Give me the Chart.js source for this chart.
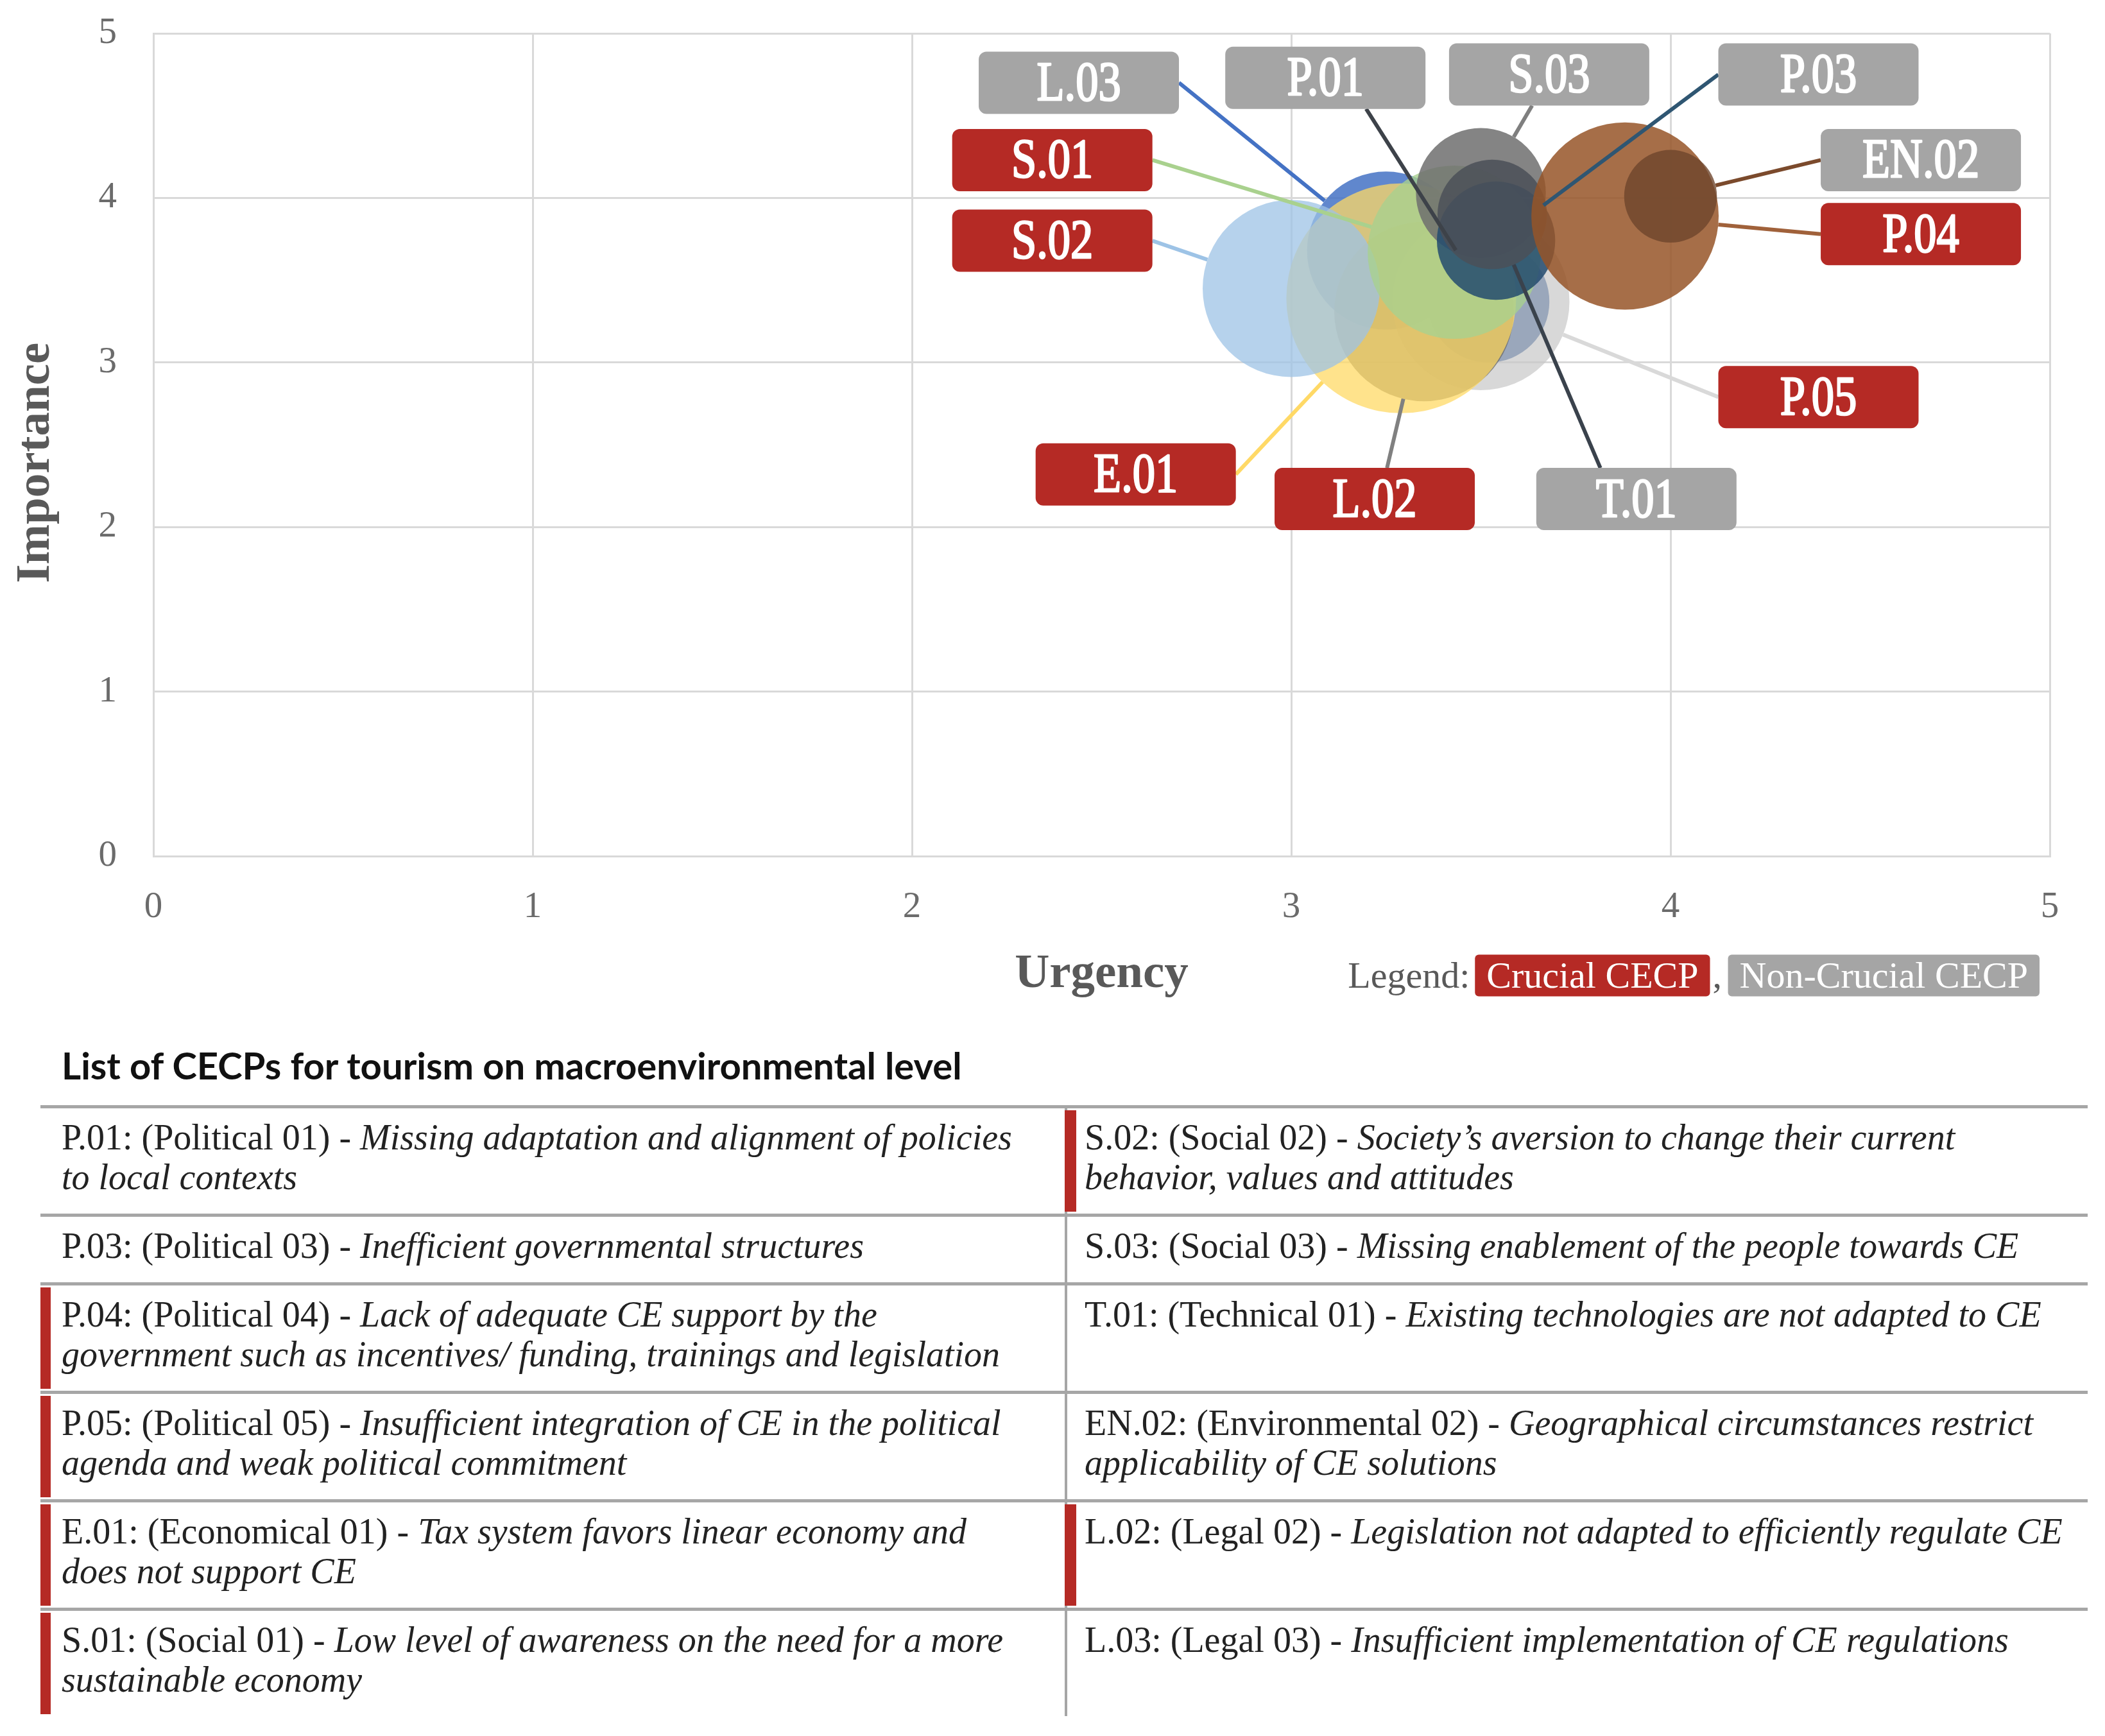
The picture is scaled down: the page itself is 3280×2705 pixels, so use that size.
<!DOCTYPE html>
<html>
<head>
<meta charset="utf-8">
<title>CECPs - Urgency vs Importance</title>
<script src="https://cdn.jsdelivr.net/npm/chart.js@4.4.1/dist/chart.umd.min.js"></script>
<style>
  html, body { margin: 0; padding: 0; background: #fff; }
  #page { position: relative; width: 3280px; height: 2705px; overflow: hidden; }
  #chartBox { position: absolute; left: 0; top: 0; width: 3280px; height: 1600px; }
  #listTitle {
    position: absolute; left: 96px; top: 1625px; line-height: 66px;
    font: bold 58px Lato, "Open Sans", sans-serif; color: #111;
  }
  #list {
    position: absolute; left: 63px; top: 1722px; width: 3190px;
    border-collapse: separate; border-spacing: 0; table-layout: fixed;
    font-family: "Liberation Serif", "Times New Roman", serif;
    font-size: 56px; line-height: 62px; color: #222;
  }
  #list td {
    border-top: 5px solid #a6a6a6; padding: 14px 0 26px 33px;
    vertical-align: top; white-space: pre; position: relative;
  }
  #list td.right { border-left: 4px solid #a6a6a6; padding-left: 27px; }
  #list td.crucial::before {
    content: ""; position: absolute; left: 0; top: 3px; bottom: 3px;
    width: 16px; background: #b52a25;
  }
  #list td.right.crucial::before { left: -4px; width: 18px; }
  #list .desc { font-style: italic; }
</style>
</head>
<body>
<div id="page">
  <div id="chartBox"><canvas id="chartCECP" width="3280" height="1600"></canvas></div>
  <div id="listTitle">List of CECPs for tourism on macroenvironmental level</div>
  <table id="list">
    <colgroup><col style="width:1596px"><col style="width:1594px"></colgroup>
    <tbody></tbody>
  </table>
</div>
<script>
// === data (table order: first six = left column, last six = right column) ===
const codes = ["P.01", "P.03", "P.04", "P.05", "E.01", "S.01",
               "S.02", "S.03", "T.01", "EN.02", "L.02", "L.03"];
const categories = ["Political 01", "Political 03", "Political 04", "Political 05", "Economical 01", "Social 01",
                    "Social 02", "Social 03", "Technical 01", "Environmental 02", "Legal 02", "Legal 03"];
const descriptions = [
  "Missing adaptation and alignment of policies\nto local contexts",
  "Inefficient governmental structures",
  "Lack of adequate CE support by the\ngovernment such as incentives/ funding, trainings and legislation",
  "Insufficient integration of CE in the political\nagenda and weak political commitment",
  "Tax system favors linear economy and\ndoes not support CE",
  "Low level of awareness on the need for a more\nsustainable economy",
  "Society\u2019s aversion to change their current\nbehavior, values and attitudes",
  "Missing enablement of the people towards CE",
  "Existing technologies are not adapted to CE",
  "Geographical circumstances restrict\napplicability of CE solutions",
  "Legislation not adapted to efficiently regulate CE",
  "Insufficient implementation of CE regulations"
];
const crucial = [false, false, true, true, true, true,
                 true, false, false, false, true, false];

// urgency (x), importance (y), bubble size
const urgency    = [3.52, 3.54, 3.88, 3.50, 3.29, 3.43, 3.00, 3.50, 3.53, 4.00, 3.35, 3.25];
const importance = [3.37, 3.74, 3.89, 3.37, 3.39, 3.67, 3.45, 4.03, 3.90, 4.01, 3.31, 3.68];
const bubbleSize = [8.8, 8.3, 20.8, 18.6, 31.3, 17.8, 18.6, 10.0, 7.1, 5.1, 19.1, 14.8];

const xTicks = [0, 1, 2, 3, 4, 5];
const yTicks = [0, 1, 2, 3, 4, 5];

// === callout placement (in axis units) and styling ===
const labelUrgency    = [3.09, 4.39, 4.66, 4.39, 2.59, 2.37, 2.37, 3.68, 3.91, 4.66, 3.22, 2.44];
const labelImportance = [4.73, 4.75, 3.78, 2.79, 2.32, 4.23, 3.74, 4.75, 2.17, 4.23, 2.17, 4.70];
const labelSide = ["b", "l", "l", "l", "r", "r", "r", "b", "t", "l", "t", "r"];

const bubbleFill = {
  "L.03": "rgba(68,114,196,0.85)",  "P.05": "rgba(200,200,200,0.7)",
  "P.01": "rgba(120,140,170,0.65)", "L.02": "rgba(110,110,110,0.8)",
  "E.01": "rgba(255,217,102,0.75)", "S.02": "rgba(157,195,230,0.75)",
  "S.01": "rgba(169,209,142,0.8)",  "S.03": "rgba(110,110,110,0.85)",
  "P.03": "rgba(35,75,110,0.85)",   "T.01": "rgba(75,80,88,0.85)",
  "P.04": "rgba(150,85,40,0.85)",   "EN.02": "rgba(110,70,45,0.8)"
};
const leaderColor = {
  "L.03": "#4472c4", "P.05": "#d9d9d9", "P.01": "#3d4249", "L.02": "#808080",
  "E.01": "#ffd966", "S.02": "#9dc3e6", "S.01": "#a9d18e", "S.03": "#7f7f7f",
  "P.03": "#2f5672", "T.01": "#3a424c", "P.04": "#a0613a", "EN.02": "#7b4a2c"
};
// bottom -> top
const drawOrder = ["L.03", "P.05", "P.01", "L.02", "E.01", "S.02", "S.01", "S.03", "P.03", "T.01", "P.04", "EN.02"];

const SERIF = "'Liberation Serif', 'Times New Roman', serif";
const RED = "#b52a25", GREY = "#a5a5a5";
const BUBBLE_K = 32;          // px per sqrt(size)
const TAG_W = 312, TAG_H = 97, TAG_FONT = 82;

const radiusOf = i => Math.sqrt(bubbleSize[i]) * BUBBLE_K;

// datasets: Chart.js paints dataset 0 last, so reverse the order
const datasets = drawOrder.slice().reverse().map(code => {
  const i = codes.indexOf(code);
  return {
    label: code,
    data: [{ x: urgency[i], y: importance[i], r: radiusOf(i) }],
    backgroundColor: bubbleFill[code],
    borderWidth: 0
  };
});

const callouts = {
  id: "callouts",
  afterDatasetsDraw(chart) {
    const { ctx, scales: { x, y } } = chart;
    ctx.save();
    ctx.lineWidth = 6;
    ctx.lineCap = "butt";
    codes.forEach((code, i) => {
      const bx = x.getPixelForValue(urgency[i]), by = y.getPixelForValue(importance[i]);
      const lx = x.getPixelForValue(labelUrgency[i]), ly = y.getPixelForValue(labelImportance[i]);
      let ax, ay;
      if (labelSide[i] === "r") { ax = lx + TAG_W / 2; ay = ly; }
      else if (labelSide[i] === "l") { ax = lx - TAG_W / 2; ay = ly; }
      else {
        ax = lx + (bx - lx) * 0.25;
        ay = labelSide[i] === "b" ? ly + TAG_H / 2 : ly - TAG_H / 2;
      }
      const d = Math.hypot(bx - ax, by - ay), r = radiusOf(i);
      ctx.strokeStyle = leaderColor[code];
      ctx.beginPath();
      ctx.moveTo(ax, ay);
      ctx.lineTo(bx - (bx - ax) / d * r, by - (by - ay) / d * r);
      ctx.stroke();
    });
    codes.forEach((code, i) => {
      const lx = x.getPixelForValue(labelUrgency[i]), ly = y.getPixelForValue(labelImportance[i]);
      ctx.fillStyle = crucial[i] ? RED : GREY;
      ctx.beginPath();
      ctx.roundRect(lx - TAG_W / 2, ly - TAG_H / 2, TAG_W, TAG_H, 12);
      ctx.fill();
      ctx.save();
      ctx.translate(lx, ly + TAG_FONT * 0.33);
      ctx.scale(0.86, 1.05);
      ctx.font = `${TAG_FONT}px ${SERIF}`;
      ctx.fillStyle = "#fff";
      ctx.strokeStyle = "#fff";
      ctx.lineWidth = 2.5;
      ctx.lineJoin = "round";
      ctx.textAlign = "center";
      ctx.textBaseline = "alphabetic";
      ctx.strokeText(code, 0, 0);
      ctx.fillText(code, 0, 0);
      ctx.restore();
    });
    ctx.restore();
  },
  afterDraw(chart) {
    // "Legend: [Crucial CECP], [Non-Crucial CECP]"
    const { ctx, chartArea } = chart;
    const cy = chartArea.bottom + 186, base = cy + 19, pad = 18, h = 65;
    ctx.save();
    ctx.font = `58px ${SERIF}`;
    ctx.textBaseline = "alphabetic";
    ctx.textAlign = "left";
    const wGrey = ctx.measureText("Non-Crucial CECP").width + 2 * pad;
    const wRed = ctx.measureText("Crucial CECP").width + 2 * pad;
    const greyL = chartArea.right - 16 - wGrey;
    const redL = greyL - 28 - wRed;
    const legW = ctx.measureText("Legend:").width;

    ctx.fillStyle = "#595959";
    ctx.fillText("Legend:", redL - 8 - legW, base);
    ctx.fillText(",", redL + wRed + 4, base);

    [[redL, wRed, RED, "Crucial CECP"], [greyL, wGrey, GREY, "Non-Crucial CECP"]].forEach(([l, w, c, t]) => {
      ctx.fillStyle = c;
      ctx.beginPath();
      ctx.roundRect(l, cy - h / 2, w, h, 6);
      ctx.fill();
      ctx.fillStyle = "#fff";
      ctx.fillText(t, l + pad, base);
    });
    ctx.restore();
  }
};

new Chart(document.getElementById("chartCECP"), {
  type: "bubble",
  data: { datasets },
  options: {
    responsive: false,
    animation: false,
    events: [],
    layout: { autoPadding: false, padding: { top: 52, right: 86, bottom: 36, left: 0 } },
    plugins: { legend: { display: false }, tooltip: { enabled: false } },
    scales: {
      x: {
        type: "linear", min: 0, max: 5,
        afterBuildTicks: s => { s.ticks = xTicks.map(v => ({ value: v })); },
        afterFit: s => { s.height = 230; },
        ticks: { padding: 46, color: "#6b6b6b", font: { family: SERIF, size: 57 } },
        grid: { color: "#d9d9d9", lineWidth: 3, drawTicks: false },
        border: { color: "#d9d9d9", width: 3 },
        title: { display: true, text: "Urgency", color: "#595959", padding: 0,
                 font: { family: SERIF, size: 75, weight: "bold" } }
      },
      y: {
        type: "linear", min: 0, max: 5,
        afterBuildTicks: s => { s.ticks = yTicks.map(v => ({ value: v })); },
        afterFit: s => { s.width = 239; s.paddingTop = 0; s.paddingBottom = 0; },
        ticks: { padding: 57, color: "#6b6b6b", font: { family: SERIF, size: 57 } },
        grid: { color: "#d9d9d9", lineWidth: 3, drawTicks: false },
        border: { color: "#d9d9d9", width: 3 },
        title: { display: true, text: "Importance   ", color: "#595959", padding: { top: 12, bottom: 0 },
                 font: { family: SERIF, size: 75, weight: "bold" } }
      }
    }
  },
  plugins: [callouts]
});

// === list of CECPs ===
const tbody = document.querySelector("#list tbody");
for (let k = 0; k < 6; k++) {
  const tr = document.createElement("tr");
  [k, k + 6].forEach((i, col) => {
    const td = document.createElement("td");
    td.className = (col ? "right" : "left") + (crucial[i] ? " crucial" : "");
    const head = document.createElement("span");
    head.textContent = `${codes[i]}: (${categories[i]}) - `;
    const desc = document.createElement("span");
    desc.className = "desc";
    desc.textContent = descriptions[i];
    td.append(head, desc);
    tr.append(td);
  });
  tbody.append(tr);
}
</script>
</body>
</html>
